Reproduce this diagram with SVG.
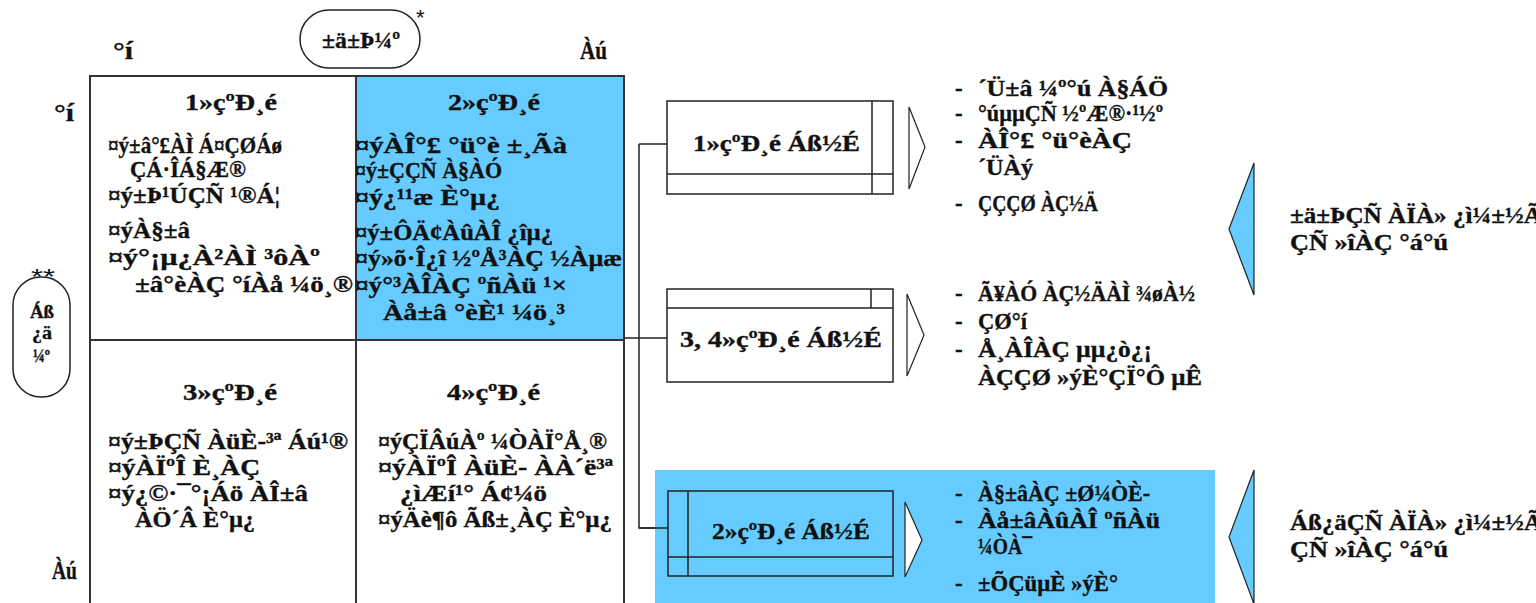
<svg xmlns="http://www.w3.org/2000/svg" width="1536" height="603" viewBox="0 0 1536 603">
<style>
text{font-family:"Liberation Serif","Times New Roman",serif;font-weight:bold;font-size:23px;fill:#111;stroke:#111;stroke-width:0.35}
text.ast{font-family:"Liberation Sans",Arial,sans-serif;font-weight:normal;font-size:22px;stroke:none}
text.big{font-size:25px}
text.v{font-size:18px}
.ln{fill:none;stroke:#222;stroke-width:1.5}
.grid{fill:none;stroke:#333;stroke-width:2}
.tri{fill:#fff;stroke:#222;stroke-width:1.2}
.btri{fill:#66CCFF;stroke:#222;stroke-width:1.2}
.pill{fill:#fff;stroke:#222;stroke-width:1.5}
</style>
<rect width="1536" height="603" fill="#fff"/>

<g id="axis-labels">
<text class="big" x="113" y="59" textLength="20" lengthAdjust="spacingAndGlyphs">°í</text>
<text class="big" x="580" y="59" textLength="27" lengthAdjust="spacingAndGlyphs">Àú</text>
<text class="big" x="54" y="121" textLength="20" lengthAdjust="spacingAndGlyphs">°í</text>
<text class="big" x="52" y="579" textLength="25" lengthAdjust="spacingAndGlyphs">Àú</text>
</g>

<g id="urgency">
<rect class="pill" x="300" y="10" width="120" height="58" rx="29"/>
<text x="322" y="48" textLength="78" lengthAdjust="spacingAndGlyphs">±ä±Þ¼º</text>
<text class="ast" x="416" y="25">*</text>
</g>

<g id="importance">
<rect class="pill" x="13" y="277" width="57" height="120" rx="28"/>
<text class="ast" x="31" y="284" textLength="24" lengthAdjust="spacingAndGlyphs">**</text>
<text class="v" x="30" y="318" textLength="24" lengthAdjust="spacingAndGlyphs">Áß</text>
<text class="v" x="32" y="339" textLength="20" lengthAdjust="spacingAndGlyphs">¿ä</text>
<text class="v" x="33" y="362" textLength="17" lengthAdjust="spacingAndGlyphs">¼º</text>
</g>

<g id="grid">
<rect x="356" y="76" width="268" height="264" fill="#66CCFF"/>
<path class="grid" d="M90,603 V76 H624 V603 M356,76 V603 M90,340 H624"/>
</g>

<g id="q1">
<text x="185" y="110" textLength="92" lengthAdjust="spacingAndGlyphs">1»çºÐ¸é</text>
<text x="108" y="153" textLength="174" lengthAdjust="spacingAndGlyphs">¤ý±â°£ÀÌ Á¤ÇØÁø</text>
<text x="130" y="177" textLength="116" lengthAdjust="spacingAndGlyphs">ÇÁ·ÎÁ§Æ®</text>
<text x="108" y="203" textLength="172" lengthAdjust="spacingAndGlyphs">¤ý±Þ¹ÚÇÑ ¹®Á¦</text>
<text x="108" y="238" textLength="82" lengthAdjust="spacingAndGlyphs">¤ýÀ§±â</text>
<text x="108" y="265" textLength="212" lengthAdjust="spacingAndGlyphs">¤ý°¡µ¿À²ÀÌ ³ôÀº</text>
<text x="135" y="292" textLength="218" lengthAdjust="spacingAndGlyphs">±â°èÀÇ °íÀå ¼ö¸®</text>
</g>

<g id="q2">
<text x="448" y="110" textLength="92" lengthAdjust="spacingAndGlyphs">2»çºÐ¸é</text>
<text x="355" y="153" textLength="212" lengthAdjust="spacingAndGlyphs">¤ýÀÎ°£ °ü°è ±¸Ãà</text>
<text x="355" y="178" textLength="147" lengthAdjust="spacingAndGlyphs">¤ý±ÇÇÑ À§ÀÓ</text>
<text x="355" y="205" textLength="145" lengthAdjust="spacingAndGlyphs">¤ý¿¹¹æ È°µ¿</text>
<text x="355" y="240" textLength="198" lengthAdjust="spacingAndGlyphs">¤ý±ÔÄ¢ÀûÀÎ ¿îµ¿</text>
<text x="355" y="266" textLength="267" lengthAdjust="spacingAndGlyphs">¤ý»õ·Î¿î ½ºÅ³ÀÇ ½Àµæ</text>
<text x="355" y="293" textLength="212" lengthAdjust="spacingAndGlyphs">¤ý°³ÀÎÀÇ ºñÀü ¹×</text>
<text x="383" y="320" textLength="182" lengthAdjust="spacingAndGlyphs">Àå±â °èÈ¹ ¼ö¸³</text>
</g>

<g id="q3">
<text x="183" y="400" textLength="94" lengthAdjust="spacingAndGlyphs">3»çºÐ¸é</text>
<text x="108" y="449" textLength="240" lengthAdjust="spacingAndGlyphs">¤ý±ÞÇÑ ÀüÈ-³ª Áú¹®</text>
<text x="108" y="475" textLength="152" lengthAdjust="spacingAndGlyphs">¤ýÀÏºÎ È¸ÀÇ</text>
<text x="108" y="501" textLength="200" lengthAdjust="spacingAndGlyphs">¤ý¿©·¯°¡Áö ÀÎ±â</text>
<text x="135" y="527" textLength="120" lengthAdjust="spacingAndGlyphs">ÀÖ´Â È°µ¿</text>
</g>

<g id="q4">
<text x="447" y="400" textLength="93" lengthAdjust="spacingAndGlyphs">4»çºÐ¸é</text>
<text x="378" y="449" textLength="229" lengthAdjust="spacingAndGlyphs">¤ýÇÏÂúÀº ¼ÒÀÏ°Å¸®</text>
<text x="378" y="475" textLength="235" lengthAdjust="spacingAndGlyphs">¤ýÀÏºÎ ÀüÈ- ÀÀ´ë³ª</text>
<text x="400" y="501" textLength="147" lengthAdjust="spacingAndGlyphs">¿ìÆí¹° Á¢¼ö</text>
<text x="378" y="527" textLength="234" lengthAdjust="spacingAndGlyphs">¤ýÄè¶ô Ãß±¸ÀÇ È°µ¿</text>
</g>

<g id="connectors">
<path class="ln" d="M624,338 H667 M639,144 H667 M639,144 V528 H668"/>
</g>

<g id="box-q1">
<rect class="ln" x="667" y="101" width="226" height="93" fill="#fff"/>
<path class="ln" d="M667,174 H893 M872,101 V194"/>
<text x="693" y="151" textLength="167" lengthAdjust="spacingAndGlyphs">1»çºÐ¸é Áß½É</text>
<polygon class="tri" points="909,107 925,147 909,189"/>
</g>

<g id="list-q1">
<text x="955" y="96">-</text><text x="978" y="96" textLength="190" lengthAdjust="spacingAndGlyphs">´Ü±â ¼º°ú À§ÁÖ</text>
<text x="955" y="121">-</text><text x="978" y="121" textLength="185" lengthAdjust="spacingAndGlyphs">°úµµÇÑ ½ºÆ®·¹½º</text>
<text x="955" y="148">-</text><text x="978" y="148" textLength="154" lengthAdjust="spacingAndGlyphs">ÀÎ°£ °ü°èÀÇ</text>
<text x="978" y="175" textLength="55" lengthAdjust="spacingAndGlyphs">´ÜÀý</text>
<text x="955" y="211">-</text><text x="978" y="211" textLength="120" lengthAdjust="spacingAndGlyphs">ÇÇÇØ ÀÇ½Ä</text>
</g>

<g id="box-q34">
<rect class="ln" x="667" y="289" width="226" height="93" fill="#fff"/>
<path class="ln" d="M667,308 H893 M871,289 V308"/>
<text x="680" y="347" textLength="202" lengthAdjust="spacingAndGlyphs">3, 4»çºÐ¸é Áß½É</text>
<polygon class="tri" points="907,294 924,335 907,376"/>
</g>

<g id="list-q34">
<text x="955" y="301">-</text><text x="978" y="301" textLength="217" lengthAdjust="spacingAndGlyphs">Ã¥ÀÓ ÀÇ½ÄÀÌ ¾øÀ½</text>
<text x="955" y="329">-</text><text x="978" y="329" textLength="49" lengthAdjust="spacingAndGlyphs">ÇØ°í</text>
<text x="955" y="357">-</text><text x="978" y="357" textLength="174" lengthAdjust="spacingAndGlyphs">Å¸ÀÎÀÇ µµ¿ò¿¡</text>
<text x="978" y="385" textLength="224" lengthAdjust="spacingAndGlyphs">ÀÇÇØ »ýÈ°ÇÏ°Ô µÊ</text>
</g>

<g id="q2-panel">
<rect x="655" y="470" width="560" height="133" fill="#66CCFF"/>
<path class="ln" d="M639,528 H668"/>
<rect class="ln" x="668" y="491" width="225" height="85"/>
<path class="ln" d="M688,491 V576 M668,557 H893"/>
<text x="712" y="539" textLength="158" lengthAdjust="spacingAndGlyphs">2»çºÐ¸é Áß½É</text>
<polygon class="tri" points="905,502 922,540 905,577"/>
<text x="955" y="501">-</text><text x="978" y="501" textLength="172" lengthAdjust="spacingAndGlyphs">À§±âÀÇ ±Ø¼ÒÈ-</text>
<text x="955" y="528">-</text><text x="978" y="528" textLength="182" lengthAdjust="spacingAndGlyphs">Àå±âÀûÀÎ ºñÀü</text>
<text x="978" y="554" textLength="54" lengthAdjust="spacingAndGlyphs">¼ÒÀ¯</text>
<text x="955" y="591">-</text><text x="978" y="591" textLength="140" lengthAdjust="spacingAndGlyphs">±ÕÇüµÈ »ýÈ°</text>
</g>

<g id="result-urgent">
<polygon class="btri" points="1254,163 1229,229 1254,295"/>
<text x="1290" y="223" textLength="252" lengthAdjust="spacingAndGlyphs">±ä±ÞÇÑ ÀÏÀ» ¿ì¼±½Ã</text>
<text x="1290" y="250" textLength="158" lengthAdjust="spacingAndGlyphs">ÇÑ »îÀÇ °á°ú</text>
</g>

<g id="result-important">
<polygon class="btri" points="1254,470 1229,537 1254,604"/>
<text x="1290" y="530" textLength="252" lengthAdjust="spacingAndGlyphs">Áß¿äÇÑ ÀÏÀ» ¿ì¼±½Ã</text>
<text x="1290" y="557" textLength="158" lengthAdjust="spacingAndGlyphs">ÇÑ »îÀÇ °á°ú</text>
</g>
</svg>
